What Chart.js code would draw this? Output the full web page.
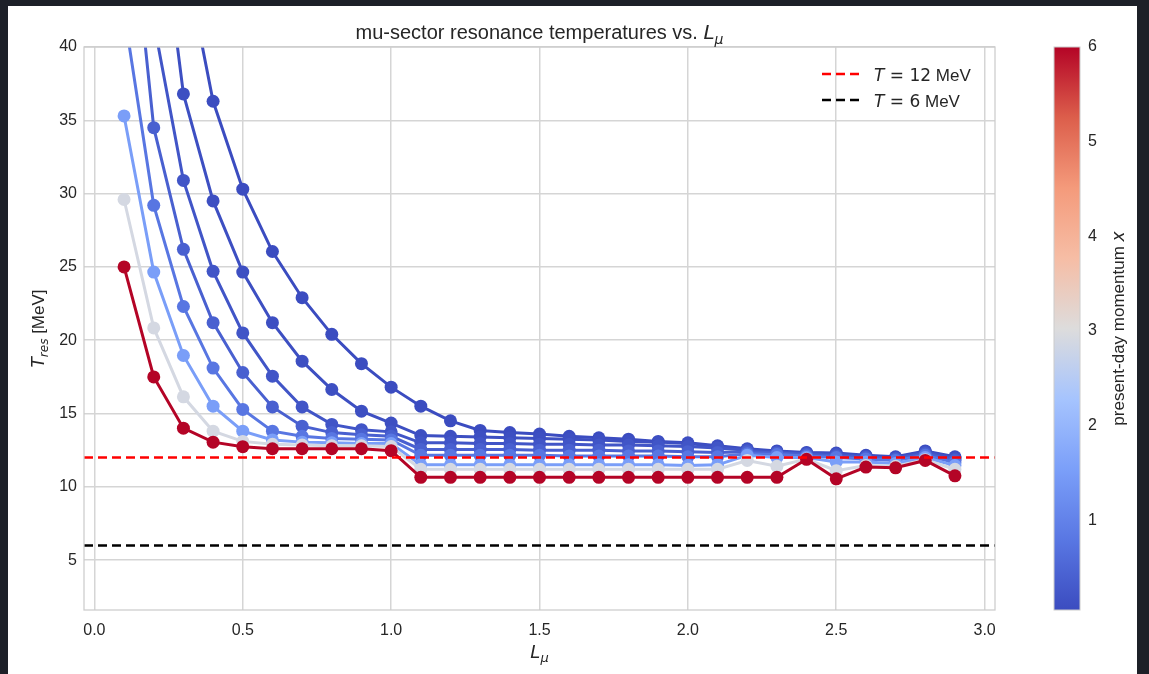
<!DOCTYPE html>
<html>
<head>
<meta charset="utf-8">
<script src="https://cdn.jsdelivr.net/npm/chart.js@4.4.0/dist/chart.umd.min.js"></script>
<style>
html, body { margin: 0; padding: 0; background: #1d2028; width: 1149px; height: 674px; overflow: hidden; }
#wrap { position: absolute; left: 8px; top: 6px; width: 1129px; height: 668px; background: #fff; }
</style>
</head>
<body>
<div id="wrap"><canvas id="chart" width="1129" height="668"></canvas></div>
<script>
// L_mu grid
const Lmu = [0.1, 0.2, 0.3, 0.4, 0.5, 0.6, 0.7, 0.8, 0.9, 1.0,
             1.1, 1.2, 1.3, 1.4, 1.5, 1.6, 1.7, 1.8, 1.9, 2.0,
             2.1, 2.2, 2.3, 2.4, 2.5, 2.6, 2.7, 2.8, 2.9];

// present-day momentum x of each curve
const momentum = [0.05, 0.1, 0.2, 0.39, 0.77, 1.52, 2.9, 6.0];

// T_res [MeV] for each momentum
const tRes_x005 = [128.0, 67.0, 46.6, 36.3, 30.3, 26.05, 22.9, 20.4, 18.4, 16.8,
                   15.5, 14.5, 13.85, 13.7, 13.6, 13.45, 13.35, 13.25, 13.1, 13.0,
                   12.8, 12.6, 12.45, 12.35, 12.3, 12.15, 12.05, 12.45, 12.05];
const tRes_x01  = [97.0, 52.8, 36.8, 29.5, 24.65, 21.2, 18.57, 16.64, 15.16, 14.35,
                   13.5, 13.45, 13.4, 13.35, 13.3, 13.25, 13.2, 13.1, 13.05, 12.95,
                   12.75, 12.55, 12.4, 12.3, 12.25, 12.1, 12.0, 12.4, 12.0];
const tRes_x02  = [75.0, 41.7, 30.9, 24.7, 20.5, 17.55, 15.45, 14.26, 13.9, 13.75,
                   13.0, 13.0, 12.95, 12.95, 12.9, 12.9, 12.85, 12.85, 12.8, 12.75,
                   12.65, 12.5, 12.35, 12.25, 12.2, 12.05, 11.95, 12.35, 11.9];
const tRes_x039 = [54.1, 34.5, 26.2, 21.2, 17.8, 15.45, 14.14, 13.7, 13.55, 13.45,
                   12.55, 12.55, 12.55, 12.55, 12.5, 12.5, 12.5, 12.45, 12.45, 12.4,
                   12.35, 12.4, 12.3, 12.2, 12.1, 12.0, 11.9, 12.25, 11.8];
const tRes_x077 = [42.4, 29.2, 22.3, 18.1, 15.28, 13.8, 13.45, 13.3, 13.25, 13.2,
                   12.15, 12.15, 12.15, 12.15, 12.15, 12.1, 12.1, 12.1, 12.1, 12.05,
                   12.05, 12.25, 12.2, 12.1, 12.0, 11.9, 11.8, 12.15, 11.65];
const tRes_x152 = [35.3, 24.65, 18.96, 15.5, 13.8, 13.2, 13.05, 13.0, 12.95, 12.95,
                   11.5, 11.5, 11.5, 11.5, 11.5, 11.5, 11.5, 11.5, 11.5, 11.45,
                   11.5, 12.15, 12.0, 12.0, 11.7, 11.7, 11.6, 12.0, 11.45];
const tRes_x29  = [29.6, 20.84, 16.14, 13.8, 13.1, 12.9, 12.85, 12.8, 12.8, 12.75,
                   11.2, 11.2, 11.2, 11.2, 11.2, 11.2, 11.2, 11.2, 11.2, 11.2,
                   11.2, 11.8, 11.4, 11.9, 11.1, 11.45, 11.4, 11.85, 11.2];
const tRes_x6   = [25.0, 17.5, 14.0, 13.05, 12.74, 12.6, 12.6, 12.6, 12.6, 12.47,
                   10.65, 10.65, 10.65, 10.65, 10.65, 10.65, 10.65, 10.65, 10.65, 10.65,
                   10.65, 10.65, 10.65, 11.88, 10.55, 11.35, 11.3, 11.8, 10.75];
const allSeries = [tRes_x005, tRes_x01, tRes_x02, tRes_x039, tRes_x077, tRes_x152, tRes_x29, tRes_x6];

// reference temperatures
const refTemps = [12, 6];
const refColors = ['#ff0000', '#000000'];

// axes
const xMin = -0.035, xMax = 3.035;
const yMin = 1.6, yMax = 40;
const xTicks = [0, 0.5, 1.0, 1.5, 2.0, 2.5, 3.0];
const yTicks = [5, 10, 15, 20, 25, 30, 35, 40];
const cbMin = 0.05, cbMax = 6;
const cbTicks = [1, 2, 3, 4, 5, 6];

// coolwarm colormap
const cwStops = [[0, '#3b4cc0'], [0.125, '#5977e3'], [0.25, '#7b9ff9'], [0.375, '#a6c4fe'],
                 [0.5, '#dddcdc'], [0.625, '#f6bda5'], [0.75, '#f49a7b'], [0.875, '#dc5e4b'], [1, '#b40426']];
function hex2rgb(h) { return [1, 3, 5].map(i => parseInt(h.substr(i, 2), 16)); }
function coolwarm(t) {
    t = Math.max(0, Math.min(1, t));
    for (let i = 0; i < cwStops.length - 1; i++) {
        const [t0, c0] = cwStops[i], [t1, c1] = cwStops[i + 1];
        if (t <= t1) {
            const f = (t - t0) / (t1 - t0), a = hex2rgb(c0), b = hex2rgb(c1);
            return 'rgb(' + a.map((v, k) => Math.round(v + (b[k] - v) * f)).join(',') + ')';
        }
    }
    return cwStops[cwStops.length - 1][1];
}

const SANS = '"Liberation Sans", Arial, sans-serif';
const INK = '#262626';

// draws text made of roman / math-italic / subscript pieces
function rich(ctx, parts, x, y, size, align) {
    const fontFor = k => k === 'r' ? `${size}px ${SANS}` :
                        k === 'm' ? `${size}px "DejaVu Sans"` :
                        k === 'i' ? `italic ${size}px "DejaVu Sans"` :
                                    `italic ${Math.round(size * 0.7)}px "DejaVu Sans"`;
    let w = 0;
    parts.forEach(p => { ctx.font = fontFor(p[1]); w += ctx.measureText(p[0]).width; });
    let cx = align === 'center' ? x - w / 2 : align === 'right' ? x - w : x;
    ctx.textAlign = 'left';
    ctx.textBaseline = 'alphabetic';
    parts.forEach(p => {
        ctx.font = fontFor(p[1]);
        ctx.fillText(p[0], cx, p[1] === 's' ? y + size * 0.24 : y);
        cx += ctx.measureText(p[0]).width;
    });
}

const decor = {
    id: 'decor',
    afterDatasetsDraw(chart) {
        const {ctx, chartArea: a} = chart;
        ctx.save();
        ctx.strokeStyle = '#cccccc';
        ctx.lineWidth = 1.25;
        ctx.strokeRect(a.left, a.top, a.right - a.left, a.bottom - a.top);
        ctx.restore();
    },
    afterDraw(chart) {
        const {ctx, chartArea: a} = chart;
        const cx = (a.left + a.right) / 2, cy = (a.top + a.bottom) / 2;
        ctx.save();
        ctx.fillStyle = INK;
        // title
        rich(ctx, [['mu-sector resonance temperatures vs. ', 'r'], ['L', 'i'], ['μ', 's']], cx, 33, 20, 'center');
        // x label
        rich(ctx, [['L', 'i'], ['μ', 's']], cx, 652, 18, 'center');
        // y label
        ctx.save();
        ctx.translate(36, cy);
        ctx.rotate(-Math.PI / 2);
        rich(ctx, [['T', 'i'], ['res', 's'], [' [MeV]', 'r']], 0, 0, 17, 'center');
        ctx.restore();

        // legend
        refTemps.forEach((t, i) => {
            const ly = 68 + i * 26;
            ctx.save();
            ctx.strokeStyle = refColors[i];
            ctx.lineWidth = 2.5;
            ctx.setLineDash([9, 5]);
            ctx.beginPath();
            ctx.moveTo(814, ly);
            ctx.lineTo(851, ly);
            ctx.stroke();
            ctx.restore();
            rich(ctx, [['T', 'i'], [' = ' + t, 'm'], [' MeV', 'r']], 866, ly + 7, 17, 'left');
        });

        // colorbar
        const cb = chart.scales.cb;
        const bx = a.right + 59, bw = 26;
        const yTop = cb.getPixelForValue(cbMax), yBot = cb.getPixelForValue(cbMin);
        const g = ctx.createLinearGradient(0, yBot, 0, yTop);
        cwStops.forEach(s => g.addColorStop(s[0], s[1]));
        ctx.fillStyle = g;
        ctx.fillRect(bx, yTop, bw, yBot - yTop);
        ctx.strokeStyle = '#cccccc';
        ctx.lineWidth = 1;
        ctx.strokeRect(bx, yTop, bw, yBot - yTop);

        ctx.fillStyle = INK;
        ctx.save();
        ctx.translate(1116, cy);
        ctx.rotate(-Math.PI / 2);
        rich(ctx, [['present-day momentum ', 'r'], ['x', 'i']], 0, 0, 17, 'center');
        ctx.restore();
        ctx.restore();
    }
};

const datasets = [];
refTemps.forEach((t, i) => {
    datasets.push({
        label: 'T = ' + t + ' MeV',
        data: [{x: xMin, y: t}, {x: xMax, y: t}],
        borderColor: refColors[i],
        borderWidth: 2.5,
        borderDash: [9, 5],
        pointRadius: 0,
        xAxisID: 'x', yAxisID: 'y'
    });
});
// highest momentum drawn on top, so list it first
for (let s = allSeries.length - 1; s >= 0; s--) {
    const col = coolwarm((momentum[s] - cbMin) / (cbMax - cbMin));
    datasets.push({
        label: 'x = ' + momentum[s],
        data: Lmu.map((l, i) => ({x: l, y: allSeries[s][i]})),
        borderColor: col,
        backgroundColor: col,
        pointBackgroundColor: col,
        borderWidth: 3,
        pointRadius: 6.5,
        pointBorderWidth: 0,
        xAxisID: 'x', yAxisID: 'y'
    });
}

const tickFont = {family: SANS, size: 16};
const gridStyle = {color: '#d5d5d5', lineWidth: 1.5, drawTicks: false};

new Chart(document.getElementById('chart'), {
    type: 'line',
    data: {datasets},
    options: {
        responsive: false,
        animation: false,
        devicePixelRatio: 1,
        layout: {padding: {top: 41, left: 0, right: 0, bottom: 0}},
        plugins: {legend: {display: false}, tooltip: {enabled: false}},
        elements: {line: {tension: 0}, point: {hoverRadius: 6.5}},
        scales: {
            x: {
                type: 'linear', min: xMin, max: xMax,
                afterBuildTicks: s => { s.ticks = xTicks.map(v => ({value: v})); },
                afterFit: s => { s.height = 64; s.paddingLeft = 0; s.paddingRight = 0; },
                grid: gridStyle,
                border: {display: false},
                ticks: {padding: 11, color: INK, font: tickFont, maxRotation: 0, autoSkip: false,
                        callback: v => Number(v).toFixed(1)}
            },
            y: {
                type: 'linear', position: 'left', min: yMin, max: yMax,
                afterBuildTicks: s => { s.ticks = yTicks.map(v => ({value: v})); },
                afterFit: s => { s.width = 76; s.paddingTop = 0; s.paddingBottom = 0; },
                grid: gridStyle,
                border: {display: false},
                ticks: {padding: 7, color: INK, font: tickFont, callback: v => String(v)}
            },
            cb: {
                type: 'linear', position: 'right', min: cbMin, max: cbMax,
                afterBuildTicks: s => { s.ticks = cbTicks.map(v => ({value: v})); },
                afterFit: s => { s.width = 142; s.paddingTop = 0; s.paddingBottom = 0; },
                grid: {display: false, drawTicks: false},
                border: {display: false},
                ticks: {padding: 93, color: INK, font: tickFont, callback: v => String(v)}
            }
        }
    },
    plugins: [decor]
});
</script>
</body>
</html>
